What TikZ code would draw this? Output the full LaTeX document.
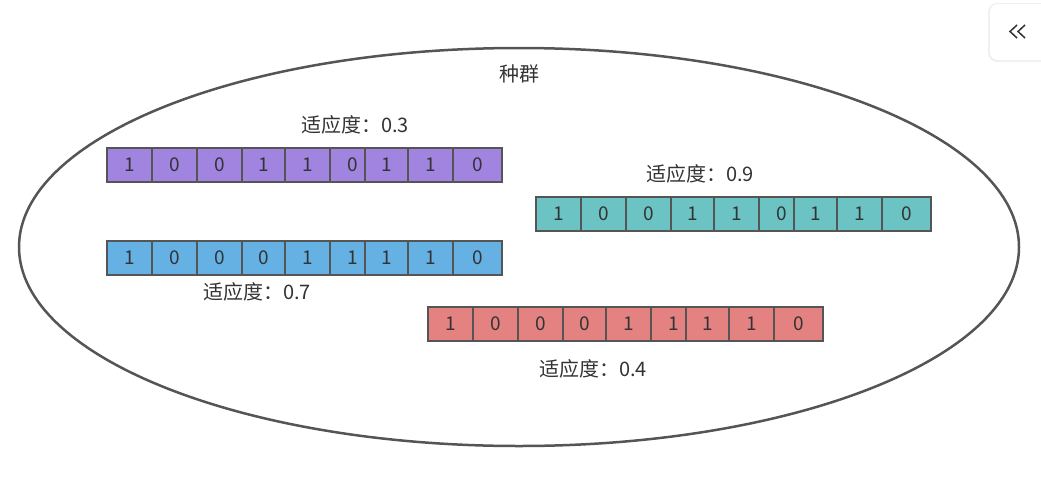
\documentclass[tikz,border=0pt]{standalone}
\usepackage{fontspec}
\setmainfont{Noto Sans CJK SC}
\definecolor{edge}{HTML}{555555}
\definecolor{txt}{HTML}{333333}
\definecolor{cpurple}{HTML}{A084E0}
\definecolor{cteal}{HTML}{6CC3C3}
\definecolor{cblue}{HTML}{66B1E4}
\definecolor{cred}{HTML}{E48282}
\tikzset{
  cell/.style={draw=edge, line width=2.8pt, minimum height=34pt, inner sep=0pt, outer sep=0pt,
    anchor=north west, text=txt, font=\fontsize{19}{19}\selectfont},
  lbl/.style={text=txt, font=\fontsize{20}{20}\selectfont, inner sep=0pt}
}
\newcommand\chromo[5]{%
  \foreach \b [count=\i] in {#5} {
    \pgfmathsetmacro\o{{0,45,90,135,178,223,258,301,346}[\i-1]}
    \pgfmathsetmacro\w{{45,45,45,43,45,45,43,45,49}[\i-1]}
    \node[cell, fill=#4, minimum width=\w pt] (#1-\i) at (#2+\o,#3) {\b};
  }}
\begin{document}
\begin{tikzpicture}[x=1pt,y=-1pt]
\useasboundingbox (0,0) rectangle (1041,479);
% population ellipse
\draw[edge, line width=2.5pt] (519,247) ellipse [x radius=500, y radius=199];
\node[lbl] (title) at (519,74) {种群};
% chromosomes
\chromo{a}{107}{148}{cpurple}{1,0,0,1,1,0,1,1,0}
\chromo{b}{536}{197}{cteal}{1,0,0,1,1,0,1,1,0}
\chromo{c}{107}{241}{cblue}{1,0,0,0,1,1,1,1,0}
\chromo{d}{428}{307}{cred}{1,0,0,0,1,1,1,1,0}
% fitness labels
\node[lbl] (fa) at (355,125) {适应度：0.3};
\node[lbl] (fb) at (700,174) {适应度：0.9};
\node[lbl] (fc) at (257,292) {适应度：0.7};
\node[lbl] (fd) at (593,369) {适应度：0.4};
% collapse button
\fill[black!6, rounded corners=9pt] (988,3) rectangle (1060,62);
\fill[white, rounded corners=8pt] (990,4) rectangle (1060,60);
\draw[txt, line width=1.5pt] (1017,25) -- (1010,31.5) -- (1017,38);
\draw[txt, line width=1.5pt] (1025,25) -- (1018,31.5) -- (1025,38);
\end{tikzpicture}
\end{document}
